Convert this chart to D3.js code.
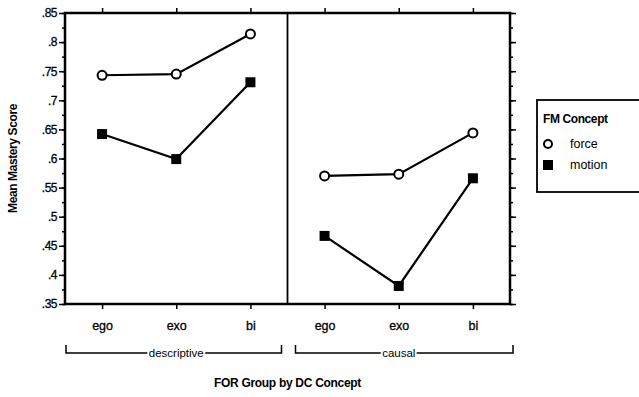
<!DOCTYPE html>
<html>
<head>
<meta charset="utf-8">
<script src="https://cdn.jsdelivr.net/npm/d3@7"></script>
<style>
  body { margin: 0; background: #fff; }
  svg text { font-family: "Liberation Sans", Arial, sans-serif; fill: #000; }
</style>
</head>
<body>
<div id="chart"></div>
<script>
// mean mastery by FOR group, two DC concepts side by side

var groups = ['descriptive', 'causal'];
var forGroups = ['ego', 'exo', 'bi'];
var force  = [0.743, 0.745, 0.814, 0.570, 0.573, 0.644];
var motion = [0.642, 0.599, 0.731, 0.467, 0.381, 0.566];
var yTicks = [0.35, 0.4, 0.45, 0.5, 0.55, 0.6, 0.65, 0.7, 0.75, 0.8, 0.85];

var width = 639, height = 397;
var margin = {left: 65, right: 129, top: 13, bottom: 93};

var svg = d3.select('#chart').append('svg')
    .attr('width', width)
    .attr('height', height);

// one slot per group/category pair
var keys = [];
groups.forEach(function(g) { forGroups.forEach(function(f) { keys.push(g + ':' + f); }); });

var x = d3.scalePoint()
    .domain(keys)
    .range([margin.left, width - margin.right])
    .padding(0.5);

var y = d3.scaleLinear()
    .domain([0.35, 0.85])
    .range([height - margin.bottom, margin.top]);

var fmt = function(d) { return d3.format('.2~f')(d).replace(/^0/, ''); };
var minor = d3.range(0.35, 0.8501, 0.025);

// left axis
svg.append('g')
    .attr('transform', 'translate(' + margin.left + ',0)')
    .call(d3.axisLeft(y).tickValues(minor).tickSize(3).tickFormat(''))
    .call(g => g.select('.domain').remove())
    .call(g => g.selectAll('line').attr('stroke-width', 1.5));
svg.append('g')
    .attr('transform', 'translate(' + margin.left + ',0)')
    .call(d3.axisLeft(y).tickValues(yTicks).tickSize(6).tickPadding(2).tickFormat(fmt))
    .call(g => g.select('.domain').remove())
    .call(g => g.selectAll('line').attr('stroke-width', 1.5))
    .call(g => g.selectAll('text').attr('font-size', 12).attr('letter-spacing', -0.5)
        .attr('stroke', '#000').attr('stroke-width', 0.3));

// right axis
svg.append('g')
    .attr('transform', 'translate(' + (width - margin.right) + ',0)')
    .call(d3.axisRight(y).tickValues(minor).tickSize(3).tickFormat(''))
    .call(g => g.select('.domain').remove())
    .call(g => g.selectAll('line').attr('stroke-width', 1.5));
svg.append('g')
    .attr('transform', 'translate(' + (width - margin.right) + ',0)')
    .call(d3.axisRight(y).tickValues(yTicks).tickSize(6).tickFormat(''))
    .call(g => g.select('.domain').remove())
    .call(g => g.selectAll('line').attr('stroke-width', 1.5));

// bottom + top category axes
svg.append('g')
    .attr('transform', 'translate(0,' + (height - margin.bottom) + ')')
    .call(d3.axisBottom(x).tickSize(5).tickPadding(12).tickFormat(d => d.split(':')[1]))
    .call(g => g.select('.domain').remove())
    .call(g => g.selectAll('line').attr('stroke-width', 1.5))
    .call(g => g.selectAll('text').attr('font-size', 12.5)
        .attr('stroke', '#000').attr('stroke-width', 0.3));
svg.append('g')
    .attr('transform', 'translate(0,' + margin.top + ')')
    .call(d3.axisTop(x).tickSize(5).tickFormat(''))
    .call(g => g.select('.domain').remove())
    .call(g => g.selectAll('line').attr('stroke-width', 1.5));

// frame
svg.append('rect')
    .attr('x', margin.left).attr('y', margin.top)
    .attr('width', width - margin.right - margin.left)
    .attr('height', height - margin.bottom - margin.top)
    .attr('fill', 'none').attr('stroke', '#000').attr('stroke-width', 2.5);

// divider between descriptive and causal
var divX = (x('descriptive:bi') + x('causal:ego')) / 2;
svg.append('line')
    .attr('x1', divX).attr('x2', divX)
    .attr('y1', margin.top).attr('y2', height - margin.bottom)
    .attr('stroke', '#000').attr('stroke-width', 1.8);

// lines, one per group so they break at the divider
var line = d3.line().x(d => x(d.k)).y(d => y(d.v));
[force, motion].forEach(function(vals) {
    groups.forEach(function(g, gi) {
        var pts = forGroups.map(function(f, fi) { return {k: g + ':' + f, v: vals[gi * 3 + fi]}; });
        svg.append('path')
            .datum(pts)
            .attr('d', line)
            .attr('fill', 'none')
            .attr('stroke', '#000')
            .attr('stroke-width', 2.2);
    });
});

// markers
svg.selectAll('.motion')
    .data(motion)
    .enter().append('rect')
    .attr('x', (d, i) => x(keys[i]) - 5)
    .attr('y', d => y(d) - 5)
    .attr('width', 10).attr('height', 10)
    .attr('fill', '#000');

svg.selectAll('.force')
    .data(force)
    .enter().append('circle')
    .attr('cx', (d, i) => x(keys[i]))
    .attr('cy', d => y(d))
    .attr('r', 4.5)
    .attr('fill', '#fff')
    .attr('stroke', '#000')
    .attr('stroke-width', 2);

// group brackets under the category labels
var by = 353;
groups.forEach(function(g, gi) {
    var x0 = gi == 0 ? margin.left + 1 : divX + 8;
    var x1 = gi == 0 ? divX - 6 : width - margin.right + 3;
    svg.append('path')
        .attr('d', 'M' + x0 + ',' + (by - 8) + 'V' + by + 'H' + x1 + 'V' + (by - 8))
        .attr('fill', 'none').attr('stroke', '#000').attr('stroke-width', 1.5);
    var cx = x(g + ':exo');
    svg.append('text')
        .attr('x', cx).attr('y', by + 4)
        .attr('text-anchor', 'middle')
        .attr('font-size', 11.5)
        .attr('stroke', '#fff').attr('stroke-width', 4).attr('paint-order', 'stroke')
        .text(g);
});

// axis titles
svg.append('text')
    .attr('transform', 'translate(17,' + y(0.6) + ') rotate(-90)')
    .attr('text-anchor', 'middle')
    .attr('font-size', 12).attr('font-weight', 'bold')
    .attr('letter-spacing', -0.4)
    .text('Mean Mastery Score');

svg.append('text')
    .attr('x', divX).attr('y', 387)
    .attr('text-anchor', 'middle')
    .attr('font-size', 12).attr('font-weight', 'bold')
    .attr('letter-spacing', -0.3)
    .text('FOR Group by DC Concept');

// legend
var lg = svg.append('g').attr('transform', 'translate(537,100)');
lg.append('rect')
    .attr('width', 110).attr('height', 92)
    .attr('fill', 'none').attr('stroke', '#000').attr('stroke-width', 1.8);
lg.append('text')
    .attr('x', 6).attr('y', 23)
    .attr('font-size', 12).attr('font-weight', 'bold')
    .attr('letter-spacing', -0.4)
    .text('FM Concept');
lg.append('circle')
    .attr('cx', 11).attr('cy', 44).attr('r', 4)
    .attr('fill', '#fff').attr('stroke', '#000').attr('stroke-width', 2);
lg.append('text').attr('x', 33).attr('y', 48).attr('font-size', 12.5).text('force');
lg.append('rect')
    .attr('x', 6).attr('y', 60).attr('width', 10).attr('height', 10)
    .attr('fill', '#000');
lg.append('text').attr('x', 33).attr('y', 69).attr('font-size', 12.5).text('motion');
</script>
</body>
</html>
